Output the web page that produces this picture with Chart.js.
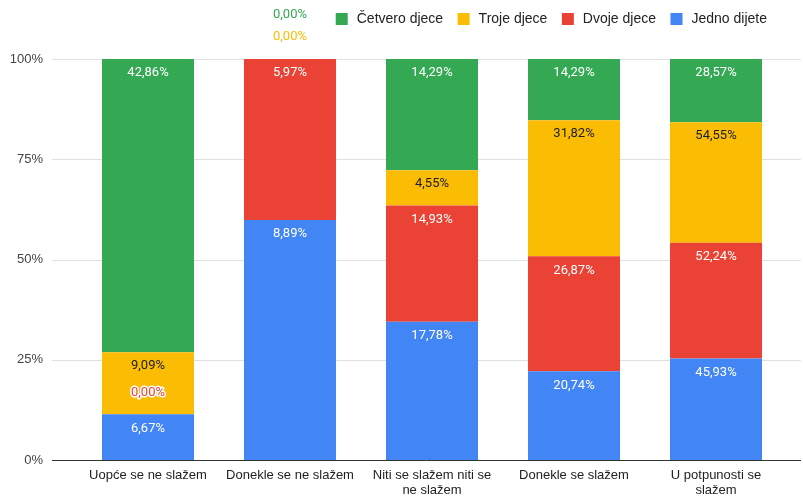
<!DOCTYPE html>
<html>
<head>
<meta charset="utf-8">
<script src="https://cdn.jsdelivr.net/npm/chart.js@4.4.1/dist/chart.umd.min.js"></script>
<style>
  html, body { margin: 0; padding: 0; background: #fff; overflow: hidden; }
  canvas { display: block; }
</style>
</head>
<body>
<canvas id="grafica" width="803" height="497"></canvas>
<script>
// datos (etiquetas = valores originales, barras normalizadas al 100%)
const kategorije = ['Uopće se ne slažem', 'Donekle se ne slažem', ['Niti se slažem niti se', 'ne slažem'], 'Donekle se slažem', ['U potpunosti se', 'slažem']];
const jednoDijete = [6.67, 8.89, 17.78, 20.74, 45.93];
const dvojeDjece = [0.00, 5.97, 14.93, 26.87, 52.24];
const trojeDjece = [9.09, 0.00, 4.55, 31.82, 54.55];
const cetveroDjece = [42.86, 0.00, 14.29, 14.29, 28.57];
const yTicks = [0, 25, 50, 75, 100];

const serije = [
    { label: 'Jedno dijete', vals: jednoDijete, color: '#4285F4', txt: '#ffffff' },
    { label: 'Dvoje djece', vals: dvojeDjece, color: '#EA4335', txt: '#ffffff' },
    { label: 'Troje djece', vals: trojeDjece, color: '#FBBC04', txt: '#202124' },
    { label: 'Četvero djece', vals: cetveroDjece, color: '#34A853', txt: '#ffffff' }
];

const sume = kategorije.map((_, i) => serije.reduce((s, d) => s + d.vals[i], 0));
const fmt = v => v.toFixed(2).replace('.', ',') + '%';

// mreza + osnovna linija
const mrezaPlugin = {
    id: 'mreza',
    beforeDatasetsDraw(chart) {
        const { ctx, scales: { y } } = chart;
        ctx.save();
        yTicks.forEach(t => {
            const py = Math.round(y.getPixelForValue(t)) + 0.5;
            ctx.strokeStyle = '#e0e0e0';
            ctx.lineWidth = 1;
            ctx.beginPath();
            ctx.moveTo(52, py);
            ctx.lineTo(801, py);
            ctx.stroke();
        });
        ctx.restore();
    },
    afterDatasetsDraw(chart) {
        const { ctx, scales: { y } } = chart;
        const py = Math.round(y.getPixelForValue(0)) + 0.5;
        ctx.save();
        ctx.strokeStyle = '#333333';
        ctx.beginPath();
        ctx.moveTo(52, py);
        ctx.lineTo(801, py);
        ctx.stroke();
        ctx.restore();
    }
};

// etikete na stupcima
const etiketePlugin = {
    id: 'etikete',
    afterDatasetsDraw(chart) {
        const ctx = chart.ctx;
        ctx.save();
        ctx.font = '13px Roboto';
        ctx.textAlign = 'center';
        ctx.textBaseline = 'middle';
        kategorije.forEach((_, i) => {
            let nule = 0, zadnjiVrh = null;
            serije.forEach((s, di) => {
                const bar = chart.getDatasetMeta(di).data[i];
                const v = s.vals[i];
                const txt = fmt(v);
                if (v === 0) {
                    if (zadnjiVrh === null || Math.abs(zadnjiVrh - bar.y) > 1) nule = 0;
                    nule++;
                    zadnjiVrh = bar.y;
                    const ly = bar.y - 22 * nule;
                    ctx.lineWidth = 3;
                    ctx.strokeStyle = '#ffffff';
                    ctx.lineJoin = 'round';
                    ctx.strokeText(txt, bar.x, ly);
                    ctx.fillStyle = s.color;
                    ctx.fillText(txt, bar.x, ly);
                } else {
                    nule = 0;
                    zadnjiVrh = bar.y;
                    ctx.fillStyle = s.txt;
                    ctx.fillText(txt, bar.x, bar.y + 14);
                }
            });
        });
        ctx.restore();
    }
};

// legenda (poravnata desno, kraj na 767px)
const legendaPlugin = {
    id: 'legenda',
    afterDraw(chart) {
        const ctx = chart.ctx;
        ctx.save();
        ctx.font = '14px "Liberation Sans", Arial';
        ctx.textBaseline = 'middle';
        const stavke = serije.slice().reverse();
        const sirine = stavke.map(s => 21 + ctx.measureText(s.label).width);
        const ukupno = sirine.reduce((a, b) => a + b, 0) + 14.5 * (stavke.length - 1);
        let x = 767 - ukupno;
        const y = 19;
        stavke.forEach((s, k) => {
            ctx.fillStyle = s.color;
            ctx.fillRect(x, y - 6, 12, 12);
            ctx.fillStyle = '#222222';
            ctx.fillText(s.label, x + 21, y);
            x += sirine[k] + 14.5;
        });
        ctx.restore();
    }
};

new Chart(document.getElementById('grafica'), {
    type: 'bar',
    data: {
        labels: kategorije,
        datasets: serije.map(s => ({
            label: s.label,
            data: s.vals.map((v, i) => v / sume[i] * 100),
            backgroundColor: s.color,
            borderWidth: 0,
            barPercentage: 0.648,
            categoryPercentage: 1
        }))
    },
    options: {
        responsive: false,
        animation: false,
        devicePixelRatio: 1,
        layout: { padding: { top: 59, right: 16, left: 0, bottom: 0 } },
        plugins: { legend: { display: false }, tooltip: { enabled: false } },
        scales: {
            x: {
                stacked: true,
                grid: { display: false, drawTicks: false },
                border: { display: false },
                ticks: { color: '#222222', font: { family: '"Liberation Sans", Arial', size: 13, lineHeight: 1.15 }, padding: 8, maxRotation: 0, autoSkip: false },
                afterFit: s => { s.height = 37; }
            },
            y: {
                stacked: true,
                min: 0, max: 100,
                grid: { display: false, drawTicks: false },
                border: { display: false },
                ticks: { stepSize: 25, color: '#444444', padding: 34, font: { family: '"Liberation Sans", Arial', size: 13 }, callback: v => v + '%' },
                afterFit: s => { s.width = 77; s.paddingTop = 0; s.paddingBottom = 0; }
            }
        }
    },
    plugins: [mrezaPlugin, etiketePlugin, legendaPlugin]
});
</script>
</body>
</html>
